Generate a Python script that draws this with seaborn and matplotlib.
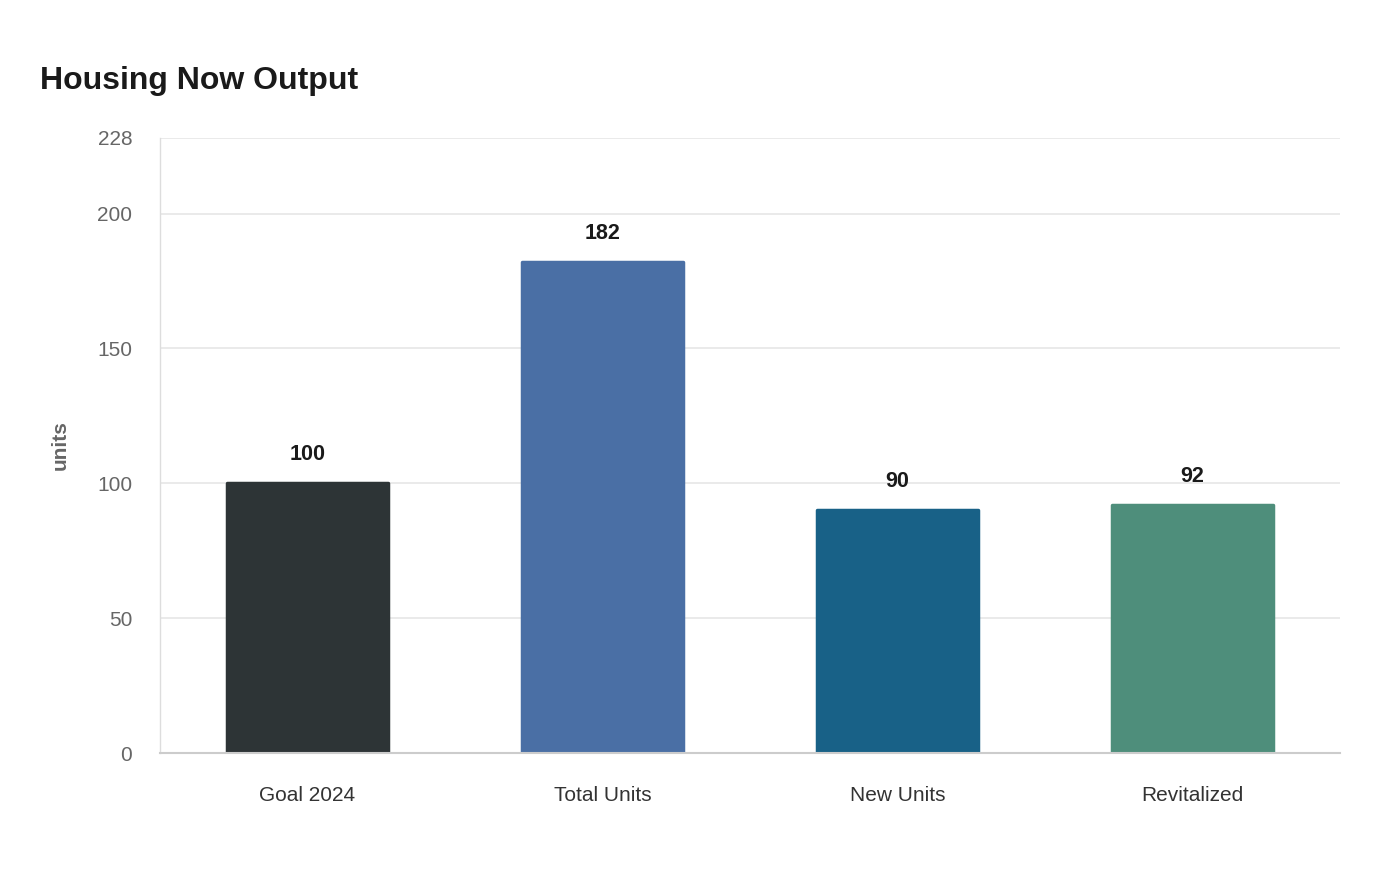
import pandas as pd
import matplotlib.pyplot as plt
import seaborn as sns

# data
categories = ['Goal 2024', 'Total Units', 'New Units', 'Revitalized']
values = [100, 182, 90, 92]
bar_colors = ['#2d3436', '#4a6fa5', '#186187', '#4e8e7b']
y_ticks = [0, 50, 100, 150, 200, 228]

df = pd.DataFrame({'category': categories, 'units': values})

sns.set_theme(style='white')
plt.rcParams['font.family'] = ['Liberation Sans', 'DejaVu Sans']

fig = plt.figure(figsize=(14, 8.8), dpi=100)
ax = fig.add_axes([0.1143, 0.1443, 0.8429, 0.6989])

sns.barplot(data=df, x='category', y='units', hue='category', palette=bar_colors,
            legend=False, width=0.545, ax=ax, saturation=1)

# small rounded corners
for p, c in zip(ax.patches, bar_colors):
    p.set_edgecolor(c)
    p.set_linewidth(2.5)
    p.set_joinstyle('round')

# value labels above the bars
for i, v in enumerate(values):
    ax.annotate(str(v), xy=(i, v), xytext=(0, 20.5), textcoords='offset points',
                ha='center', va='center', fontsize=15.5, fontweight='bold', color='#1a1a1a')

ax.set_ylim(0, 228)
ax.set_xlim(-0.5, 3.5)
ax.set_yticks(y_ticks)
ax.yaxis.grid(True, color='#e6e6e6', linewidth=1.2)
ax.set_axisbelow(True)

ax.tick_params(axis='y', labelsize=15, labelcolor='#666666', length=11, color='#e6e6e6', width=1.2, pad=9)
ax.tick_params(axis='x', labelsize=15, labelcolor='#333333', length=0, pad=24)

for s in ['top', 'right']:
    ax.spines[s].set_visible(False)
ax.spines['left'].set_color('#dddddd')
ax.spines['left'].set_linewidth(1)
ax.spines['bottom'].set_color('#cccccc')
ax.spines['bottom'].set_linewidth(1.5)

ax.set_xlabel('')
ax.set_ylabel('units', fontsize=15, fontweight='bold', color='#666666', labelpad=20)

fig.text(0.0286, 0.908, 'Housing Now Output', fontsize=23, fontweight='bold',
         color='#1a1a1a', ha='left', va='center')

plt.savefig('out.png', dpi=100)
